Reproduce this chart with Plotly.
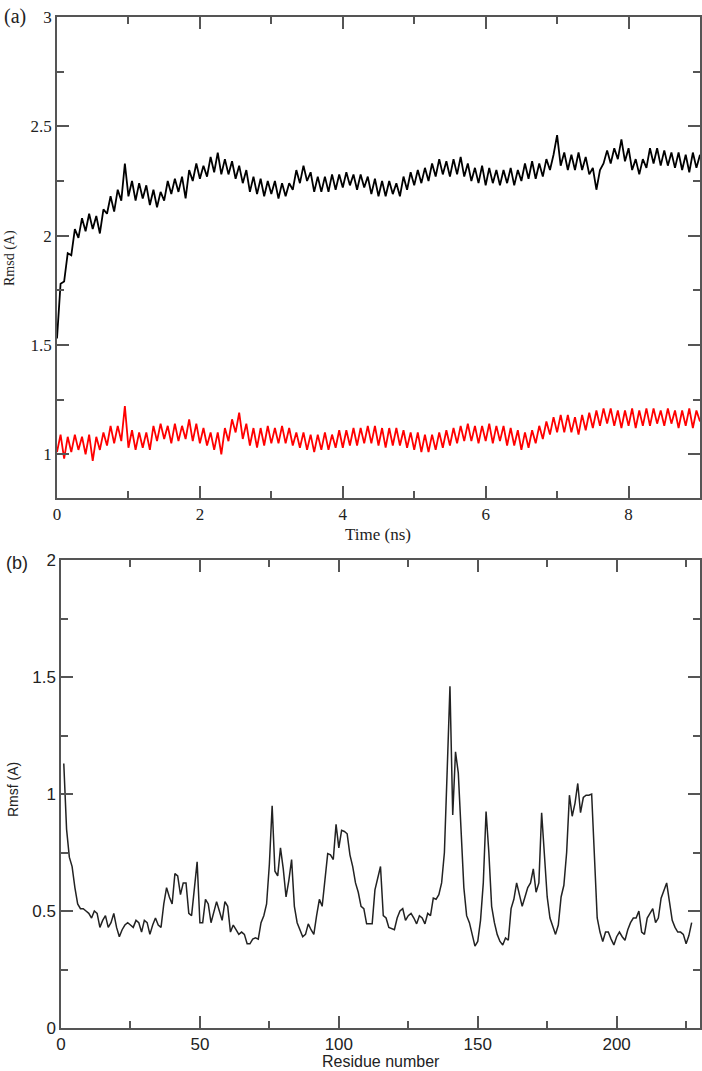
import plotly.graph_objects as go

# ---------------- data ----------------
# (a) RMSD vs time, sampled every 0.05 ns (values read off the picture)
time_ns = [round(i * 0.05, 2) for i in range(181)]

rmsd_black = [
    1.53, 1.78, 1.79, 1.92, 1.91, 2.03, 1.99, 2.08, 2.02, 2.10,
    2.03, 2.09, 2.01, 2.12, 2.10, 2.18, 2.11, 2.21, 2.16, 2.33,
    2.18, 2.25, 2.16, 2.24, 2.17, 2.23, 2.14, 2.21, 2.13, 2.20,
    2.16, 2.25, 2.19, 2.26, 2.20, 2.27, 2.17, 2.30, 2.25, 2.33,
    2.26, 2.32, 2.27, 2.36, 2.29, 2.38, 2.28, 2.35, 2.28, 2.34,
    2.26, 2.32, 2.24, 2.30, 2.20, 2.27, 2.19, 2.26, 2.18, 2.25,
    2.19, 2.25, 2.17, 2.24, 2.18, 2.24, 2.21, 2.30, 2.24, 2.32,
    2.25, 2.29, 2.20, 2.27, 2.20, 2.27, 2.20, 2.28, 2.21, 2.28,
    2.22, 2.29, 2.23, 2.28, 2.21, 2.28, 2.22, 2.27, 2.19, 2.26,
    2.18, 2.25, 2.18, 2.25, 2.19, 2.24, 2.18, 2.27, 2.21, 2.29,
    2.23, 2.30, 2.24, 2.31, 2.25, 2.33, 2.27, 2.35, 2.28, 2.34,
    2.27, 2.35, 2.28, 2.36, 2.27, 2.33, 2.25, 2.31, 2.24, 2.32,
    2.23, 2.31, 2.24, 2.30, 2.23, 2.30, 2.24, 2.31, 2.23, 2.30,
    2.25, 2.33, 2.26, 2.34, 2.26, 2.33, 2.27, 2.35, 2.30, 2.37,
    2.46, 2.32, 2.38, 2.30, 2.37, 2.30, 2.38, 2.30, 2.36, 2.28,
    2.31, 2.21, 2.30, 2.33, 2.39, 2.33, 2.40, 2.35, 2.44, 2.34,
    2.40, 2.30, 2.35, 2.28, 2.35, 2.31, 2.40, 2.33, 2.40, 2.32,
    2.39, 2.32, 2.38, 2.31, 2.38, 2.30, 2.37, 2.29, 2.38, 2.31,
    2.37,
]

rmsd_red = [
    1.01, 1.09, 0.98, 1.08, 1.01, 1.09, 1.02, 1.08, 1.00, 1.09,
    0.97, 1.08, 1.02, 1.10, 1.04, 1.13, 1.05, 1.13, 1.06, 1.22,
    1.03, 1.11, 1.02, 1.10, 1.03, 1.10, 1.02, 1.13, 1.06, 1.14,
    1.07, 1.13, 1.05, 1.14, 1.06, 1.13, 1.07, 1.16, 1.06, 1.14,
    1.05, 1.12, 1.04, 1.10, 1.02, 1.10, 1.00, 1.12, 1.06, 1.16,
    1.10, 1.19, 1.07, 1.14, 1.04, 1.12, 1.03, 1.12, 1.04, 1.13,
    1.05, 1.12, 1.05, 1.13, 1.05, 1.12, 1.04, 1.10, 1.03, 1.10,
    1.02, 1.09, 1.01, 1.09, 1.02, 1.10, 1.02, 1.09, 1.03, 1.11,
    1.03, 1.11, 1.04, 1.12, 1.04, 1.12, 1.05, 1.13, 1.05, 1.13,
    1.04, 1.12, 1.03, 1.12, 1.04, 1.12, 1.04, 1.11, 1.03, 1.10,
    1.02, 1.10, 1.01, 1.09, 1.01, 1.09, 1.02, 1.10, 1.03, 1.11,
    1.04, 1.12, 1.05, 1.13, 1.06, 1.14, 1.06, 1.13, 1.05, 1.13,
    1.06, 1.14, 1.05, 1.13, 1.06, 1.13, 1.04, 1.12, 1.04, 1.11,
    1.02, 1.10, 1.03, 1.11, 1.05, 1.13, 1.07, 1.15, 1.09, 1.17,
    1.10, 1.18, 1.10, 1.18, 1.10, 1.17, 1.09, 1.18, 1.11, 1.19,
    1.12, 1.20, 1.13, 1.21, 1.14, 1.21, 1.13, 1.20, 1.12, 1.20,
    1.13, 1.21, 1.12, 1.20, 1.13, 1.21, 1.13, 1.21, 1.14, 1.20,
    1.13, 1.21, 1.14, 1.20, 1.12, 1.20, 1.13, 1.21, 1.12, 1.20,
    1.15,
]

# (b) RMSF per residue
residues = list(range(1, 228))
rmsf = [
    1.13, 0.85, 0.73, 0.69, 0.60, 0.53, 0.51, 0.51, 0.50, 0.49,
    0.47, 0.50, 0.49, 0.43, 0.46, 0.48, 0.43, 0.45, 0.49, 0.43,
    0.39, 0.42, 0.44, 0.45, 0.44, 0.43, 0.46, 0.45, 0.41, 0.46,
    0.45, 0.40, 0.44, 0.47, 0.44, 0.43, 0.53, 0.60, 0.56, 0.53,
    0.66, 0.65, 0.57, 0.62, 0.62, 0.49, 0.48, 0.60, 0.71, 0.45,
    0.45, 0.55, 0.53, 0.45, 0.50, 0.54, 0.50, 0.46, 0.54, 0.52,
    0.41, 0.44, 0.42, 0.40, 0.41, 0.40, 0.36, 0.36, 0.38, 0.385,
    0.38, 0.45, 0.48, 0.53, 0.70, 0.95, 0.67, 0.65, 0.77, 0.68,
    0.56, 0.63, 0.72, 0.52, 0.45, 0.42, 0.39, 0.40, 0.445, 0.42,
    0.40, 0.48, 0.55, 0.52, 0.62, 0.745, 0.74, 0.72, 0.87, 0.77,
    0.845, 0.84, 0.83, 0.74, 0.69, 0.62, 0.58, 0.52, 0.51, 0.445,
    0.445, 0.445, 0.59, 0.64, 0.69, 0.48, 0.47, 0.43, 0.425, 0.42,
    0.47, 0.50, 0.51, 0.46, 0.48, 0.49, 0.47, 0.445, 0.48, 0.47,
    0.445, 0.49, 0.48, 0.555, 0.55, 0.57, 0.62, 0.75, 1.10, 1.46,
    0.91, 1.18, 1.09, 0.85, 0.60, 0.48, 0.45, 0.40, 0.35, 0.37,
    0.46, 0.62, 0.925, 0.75, 0.52, 0.45, 0.40, 0.37, 0.355, 0.385,
    0.375, 0.51, 0.55, 0.62, 0.57, 0.52, 0.56, 0.60, 0.62, 0.68,
    0.58, 0.62, 0.92, 0.72, 0.56, 0.47, 0.43, 0.40, 0.44, 0.56,
    0.61, 0.75, 0.995, 0.905, 0.96, 1.045, 0.92, 0.985, 0.995, 0.995,
    1.0, 0.72, 0.47, 0.41, 0.37, 0.41, 0.41, 0.38, 0.355, 0.39,
    0.41, 0.39, 0.375, 0.42, 0.45, 0.47, 0.47, 0.50, 0.41, 0.40,
    0.47, 0.49, 0.51, 0.45, 0.47, 0.555, 0.59, 0.62, 0.54, 0.46,
    0.43, 0.41, 0.41, 0.40, 0.36, 0.395, 0.45,
]

# ---------------- figure ----------------
W, H = 702, 1071
SERIF = "Liberation Serif, Times New Roman, serif"
SANS = "Liberation Sans Narrow, Liberation Sans, Arial, sans-serif"
AXC = "#555555"

def px_x(p):
    return p / W

def px_y(p):
    return 1 - p / H

fig = go.Figure()
fig.add_trace(go.Scatter(x=time_ns, y=rmsd_black, mode="lines",
                         line=dict(color="#000000", width=1.8),
                         xaxis="x", yaxis="y", showlegend=False))
fig.add_trace(go.Scatter(x=time_ns, y=rmsd_red, mode="lines",
                         line=dict(color="#ff0000", width=1.8),
                         xaxis="x", yaxis="y", showlegend=False))
fig.add_trace(go.Scatter(x=residues, y=rmsf, mode="lines",
                         line=dict(color="#222222", width=1.5),
                         xaxis="x2", yaxis="y2", showlegend=False))

common = dict(showline=True, linecolor=AXC, linewidth=1.5, mirror="allticks",
              ticks="inside", ticklen=12, tickwidth=1.5, tickcolor=AXC,
              showgrid=False, zeroline=False, automargin=False)

fig.update_layout(
    width=W, height=H,
    margin=dict(l=0, r=0, t=0, b=0),
    paper_bgcolor="white", plot_bgcolor="white",
    xaxis=dict(domain=[px_x(57), px_x(700)], range=[0, 9], anchor="y",
               tick0=0, dtick=2,
               minor=dict(ticks="inside", ticklen=7, tickwidth=1.5, tickcolor=AXC, dtick=1, showgrid=False),
               tickfont=dict(family=SERIF, size=17, color="#222"),
               **common),
    yaxis=dict(domain=[px_y(498), px_y(17)], range=[0.8, 3], anchor="x",
               tick0=0, dtick=0.5,
               minor=dict(ticks="inside", ticklen=7, tickwidth=1.5, tickcolor=AXC, dtick=0.25, showgrid=False),
               tickfont=dict(family=SERIF, size=17, color="#222"),
               **common),
    xaxis2=dict(domain=[px_x(61), px_x(700)], range=[0, 230], anchor="y2",
                tick0=0, dtick=50,
                minor=dict(ticks="inside", ticklen=7, tickwidth=1.5, tickcolor=AXC, dtick=25, showgrid=False),
                tickfont=dict(family=SANS, size=17, color="#222"),
                **common),
    yaxis2=dict(domain=[px_y(1028), px_y(560)], range=[0, 2], anchor="x2",
                tick0=0, dtick=0.5,
                minor=dict(ticks="inside", ticklen=7, tickwidth=1.5, tickcolor=AXC, dtick=0.25, showgrid=False),
                tickfont=dict(family=SANS, size=17, color="#222"),
                **common),
)

annots = [
    dict(text="(a)", x=px_x(2), y=px_y(17), xanchor="left", yanchor="middle",
         font=dict(family=SERIF, size=20, color="#222")),
    dict(text="Rmsd (A)", x=px_x(10), y=px_y(258), xanchor="center", yanchor="middle",
         textangle=-90, font=dict(family=SERIF, size=14, color="#222")),
    dict(text="Time (ns)", x=px_x(378), y=px_y(534), xanchor="center", yanchor="middle",
         font=dict(family=SERIF, size=17, color="#222")),
    dict(text="(b)", x=px_x(4), y=px_y(563), xanchor="left", yanchor="middle",
         font=dict(family=SANS, size=18, color="#222")),
    dict(text="Rmsf (A)", x=px_x(13), y=px_y(790), xanchor="center", yanchor="middle",
         textangle=-90, font=dict(family=SANS, size=14, color="#222")),
    dict(text="Residue number", x=px_x(381), y=px_y(1061), xanchor="center", yanchor="middle",
         font=dict(family=SANS, size=16, color="#222")),
]
for a in annots:
    a.update(xref="paper", yref="paper", showarrow=False)
fig.update_layout(annotations=annots)

fig.write_html(
    "out.html",
    config={"displayModeBar": False},
    post_script="document.body.style.margin='0';document.body.style.overflow='hidden';",
)
